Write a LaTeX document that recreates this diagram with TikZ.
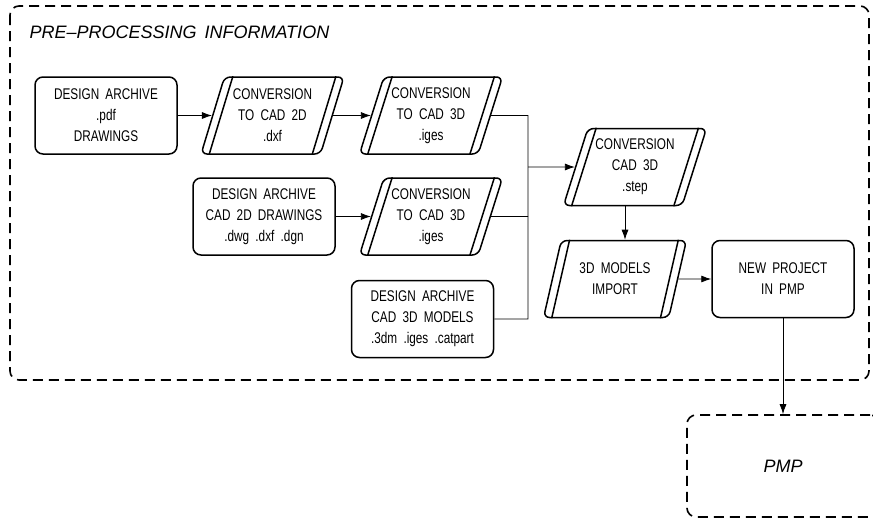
\documentclass[tikz,border=0pt]{standalone}
\usepackage{fontspec}
\setmainfont{Liberation Sans}[FakeStretch=0.76,WordSpace=1.9]
\newfontfamily\titlefont{Liberation Sans}[WordSpace=1.6]
\usetikzlibrary{shapes.geometric,arrows.meta,calc}
\tikzset{
	archive/.style={draw, line width=1.5pt, rounded corners=8pt, minimum width=142pt, minimum height=77pt, inner sep=0pt, align=center, font=\fontsize{15.5}{21}\selectfont},
	convert/.style={trapezium, trapezium left angle=70, trapezium right angle=110, trapezium stretches=true, draw, line width=1.5pt, rounded corners=6pt, minimum width=143pt, minimum height=77pt, inner sep=0pt, align=center, font=\fontsize{15.5}{21}\selectfont},
	link/.style={line width=0.8pt},
	arr/.style={link, -{Latex[length=10pt,width=7pt]}},
	frame/.style={line width=1.6pt, dash pattern=on 10pt off 6pt, rounded corners=9pt},
}
\begin{document}
\begin{tikzpicture}[x=1pt,y=-1pt]
	\useasboundingbox (0,0) rectangle (873,520);
	% pre-processing frame
	\draw[frame] (10,6) rectangle (869,380);
	\node[anchor=base west, font=\titlefont\itshape\fontsize{18}{22}\selectfont] (title) at (26,38) {PRE–PROCESSING INFORMATION};
	%archive boxes
	\node[archive] (pdf) at (106,115.5) {DESIGN ARCHIVE\\.pdf\\DRAWINGS};
	\node[archive] (dwg) at (264,216.5) {DESIGN ARCHIVE\\CAD 2D DRAWINGS\\.dwg .dxf .dgn};
	\node[archive] (models) at (422.5,319) {DESIGN ARCHIVE\\CAD 3D MODELS\\.3dm .iges .catpart};
	\node[archive] (newproj) at (783,279) {NEW PROJECT\\IN PMP};
	%conversion steps
	\node[convert] (dxf) at (272.5,115.5) {CONVERSION\\TO CAD 2D\\.dxf};
	\node[convert] (igesA) at (431,115.5) {CONVERSION\\TO CAD 3D\\.iges};
	\node[convert] (igesB) at (431,216.5) {CONVERSION\\TO CAD 3D\\.iges};
	\node[convert] (step) at (635,167) {CONVERSION\\CAD 3D\\.step};
	\node[convert] (import) at (615,279) {3D MODELS\\IMPORT};
	\foreach \n in {dxf,igesA,igesB,step,import}{
		\draw[line width=1.5pt] ($(\n.top left corner)+(9,0)$) -- ($(\n.bottom left corner)+(9,0)$);
		\draw[line width=1.5pt] ($(\n.top right corner)-(9,0)$) -- ($(\n.bottom right corner)-(9,0)$);
	}
	% PMP
	\node[frame, draw, minimum width=192pt, minimum height=102pt, font=\titlefont\itshape\fontsize{18}{22}\selectfont] (pmp) at (783,466) {PMP};
	% connectors
	\coordinate (bus) at (528,167);
	\draw[arr] (pdf) -- (dxf);
	\draw[arr] (dxf) -- (igesA);
	\draw[arr] (dwg) -- (igesB);
	\draw[link] (igesA) -- (igesA -| bus) -- (models -| bus) -- (models);
	\draw[link] (igesB) -- (igesB -| bus);
	\draw[arr] (bus) -- (step);
	\coordinate (drop) at ($(step.south)!.5!(import.north)$);
	\draw[arr] (drop |- step.south) -- (drop |- import.north);
	\draw[arr] (import) -- (newproj);
	\draw[arr] (newproj) -- (pmp);
\end{tikzpicture}
\end{document}
